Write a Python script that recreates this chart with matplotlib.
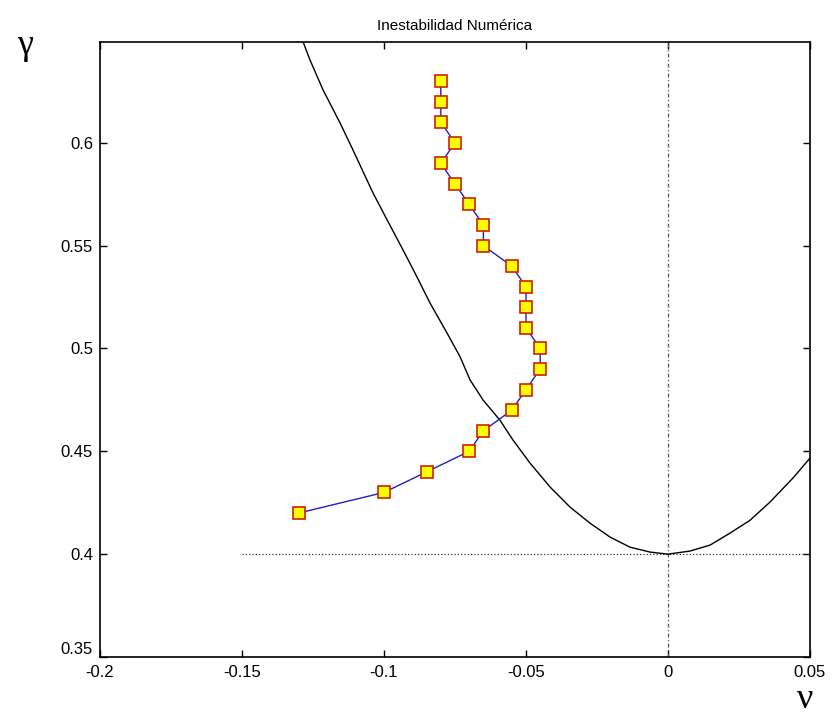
import numpy as np
from matplotlib import pyplot as plt

# Markers: nu (x) vs gamma (y)
gamma = [0.42, 0.43, 0.44, 0.45, 0.46, 0.47, 0.48, 0.49, 0.50, 0.51, 0.52,
         0.53, 0.54, 0.55, 0.56, 0.57, 0.58, 0.59, 0.60, 0.61, 0.62, 0.63]
nu = [-0.13, -0.10, -0.085, -0.07, -0.065, -0.055, -0.05, -0.045, -0.045, -0.05, -0.05,
      -0.05, -0.055, -0.065, -0.065, -0.07, -0.075, -0.08, -0.075, -0.08, -0.08, -0.08]

# Stability boundary curve
curve_nu = [-0.1285, -0.1261, -0.1215, -0.1155, -0.1113, -0.1039, -0.0989, -0.0933,
            -0.0884, -0.0838, -0.0778, -0.0732, -0.0697, -0.0651, -0.0592, -0.0546,
            -0.0486, -0.0415, -0.0345, -0.0275, -0.0204, -0.0134, -0.0063, 0.0,
            0.0077, 0.0148, 0.0218, 0.0289, 0.0359, 0.0440, 0.05]
curve_gamma = [0.6491, 0.6404, 0.6258, 0.6097, 0.5976, 0.5757, 0.5625, 0.5479,
               0.5348, 0.5221, 0.5075, 0.4959, 0.4847, 0.4749, 0.4652, 0.4555,
               0.4443, 0.4326, 0.4229, 0.4151, 0.4083, 0.4034, 0.4010, 0.4,
               0.4015, 0.4044, 0.4102, 0.4165, 0.4253, 0.4370, 0.4467]

plt.rcParams['font.family'] = ['Liberation Sans', 'DejaVu Sans']

fig = plt.figure(figsize=(8.32, 7.2), dpi=100)
ax = fig.add_axes([100 / 832, 1 - 657 / 720, 710 / 832, 615 / 720])

# reference lines
ax.plot([-0.15, 0.05], [0.4, 0.4], linestyle=':', color='#333333', lw=0.9)
ax.axvline(0.0, linestyle=(0, (3, 2, 1, 2)), color='#555555', lw=0.9)

ax.plot(curve_nu, curve_gamma, color='black', lw=1.0)
ax.plot(nu, gamma, color='#2020c0', lw=1.0, marker='s', markersize=9,
        markerfacecolor='#ffff00', markeredgecolor='#d02000', markeredgewidth=1.2)

ax.set_xlim(-0.2, 0.05)
ax.set_ylim(0.35, 0.649)
ax.set_xticks([-0.2, -0.15, -0.1, -0.05, 0, 0.05])
ax.set_xticklabels(['-0.2', '-0.15', '-0.1', '-0.05', '0', '0.05'])
ax.set_yticks([0.35, 0.4, 0.45, 0.5, 0.55, 0.6])
ax.set_yticklabels(['0.35', '0.4', '0.45', '0.5', '0.55', '0.6'])
ax.tick_params(direction='in', top=True, right=True, labelsize=12, length=5, width=1)
ax.tick_params(axis='y', pad=5)
ax.tick_params(axis='x', pad=6)
ax.get_yticklabels()[0].set_va('bottom')
for s in ax.spines.values():
    s.set_linewidth(1.2)

ax.set_title('Inestabilidad Numérica', fontsize=11, pad=9)
fig.text(25 / 832, 1 - 45 / 720, 'γ', fontsize=26, ha='center', va='center',
         family='Liberation Serif')
fig.text(805 / 832, 1 - 700 / 720, 'ν', fontsize=26, ha='center', va='center',
         family='Liberation Serif')

fig.savefig('out.png', dpi=100)
